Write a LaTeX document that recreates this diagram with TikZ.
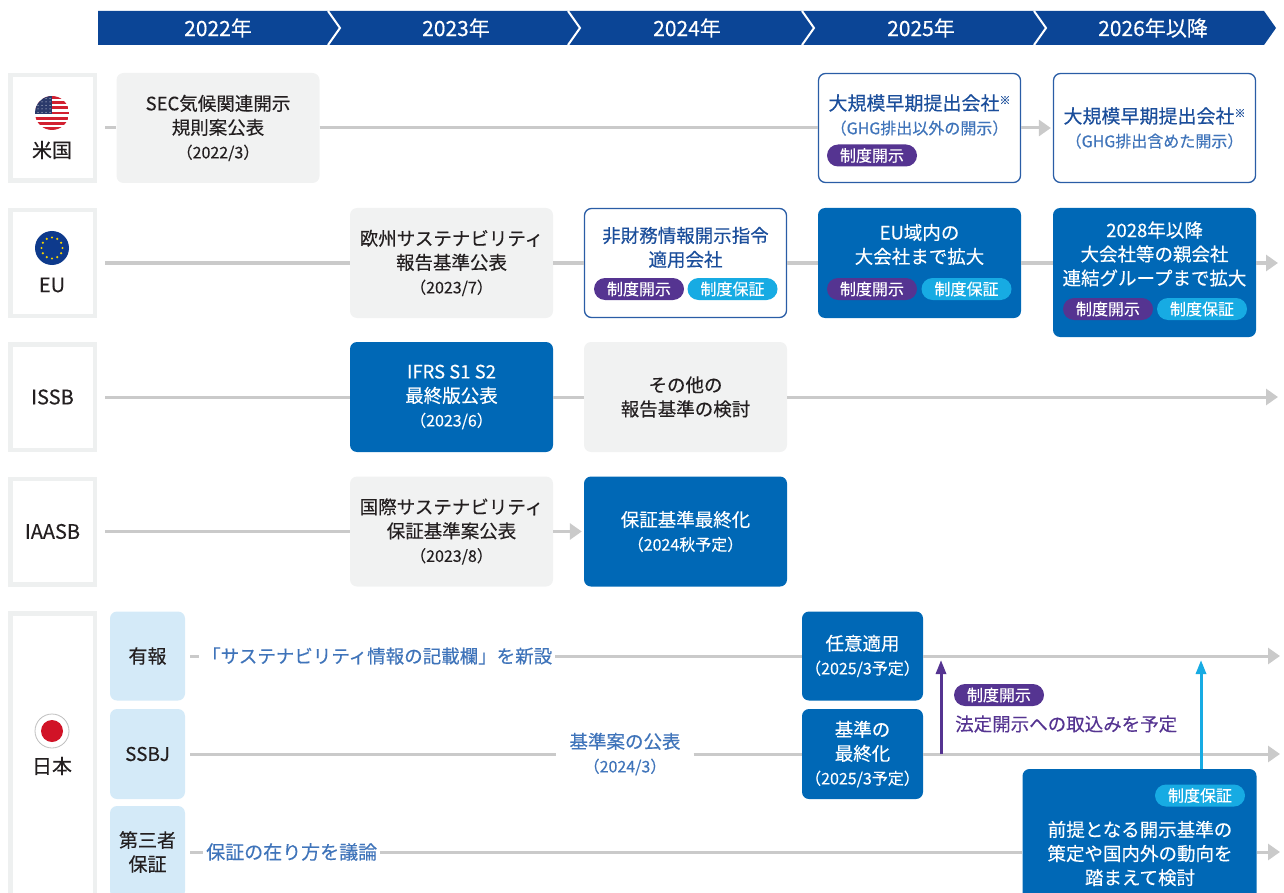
\documentclass[tikz,border=0pt]{standalone}
\usepackage{fontspec}
\setmainfont{Noto Sans CJK JP}[FakeBold=0.3]
\usetikzlibrary{arrows.meta}
\definecolor{hdrblue}{HTML}{0B4596}
\definecolor{boxblue}{HTML}{0068B6}
\definecolor{boxgray}{HTML}{F1F2F2}
\definecolor{linegray}{HTML}{CACACA}
\definecolor{rowgray}{HTML}{EEF0F0}
\definecolor{purp}{HTML}{553491}
\definecolor{cyanb}{HTML}{17ABE3}
\definecolor{paleblue}{HTML}{D4EAF8}
\definecolor{frameblue}{HTML}{2A5DA6}
\definecolor{navytxt}{HTML}{1B4E9B}
\definecolor{lighttxt}{HTML}{3F74BA}
\definecolor{darktxt}{HTML}{231F20}
\definecolor{usred}{HTML}{D22030}
\definecolor{usblue}{HTML}{2B3A6B}
\definecolor{eublue}{HTML}{0E3A8C}
\definecolor{euyellow}{HTML}{F5D200}
\definecolor{jpred}{HTML}{D11327}
\newcommand{\dtx}[1]{{\fontsize{16}{24}\selectfont #1}}
\newcommand{\komemark}{\raisebox{6pt}{\fontsize{11}{11}\selectfont ※}}

\begin{document}
\begin{tikzpicture}[x=1pt,y=-1pt]
\tikzstyle{every node}+=[inner sep=0pt,text=darktxt]
\tikzstyle{yr}=[text=white,font=\fontsize{21}{21}\selectfont]
\tikzstyle{rowbox}=[draw=rowgray,line width=4.5pt,fill=white,minimum width=84.5pt,minimum height=105.5pt,align=center,font=\fontsize{20}{24}\selectfont]
\tikzstyle{rowname}=[font=\fontsize{20}{24}\selectfont]
\tikzstyle{gbox}=[fill=boxgray,rounded corners=7pt,minimum width=203pt,minimum height=110pt,align=center,font=\fontsize{18.5}{24}\selectfont]
\tikzstyle{bbox}=[gbox,fill=boxblue,text=white]
\tikzstyle{wbox}=[gbox,fill=white,draw=frameblue,line width=1.3pt,minimum width=202pt,minimum height=109pt,text=navytxt]
\tikzstyle{btext}=[align=center,font=\fontsize{18.5}{24}\selectfont]
\tikzstyle{pillp}=[fill=purp,text=white,rounded corners=11pt,minimum width=90pt,minimum height=22pt,font=\fontsize{16}{16}\selectfont]
\tikzstyle{pillc}=[pillp,fill=cyanb]
\tikzstyle{subbox}=[fill=paleblue,rounded corners=7pt,minimum width=75pt,align=center,font=\fontsize{19}{24}\selectfont]
\tikzstyle{jtxt}=[fill=white,inner xsep=3pt,inner ysep=1pt,align=center,text=lighttxt,font=\fontsize{18.5}{24}\selectfont]
\tikzstyle{tl}=[draw=linegray,line width=3pt]
\tikzstyle{tla}=[tl,-{Triangle[length=12pt,width=16pt]}]
\tikzstyle{uparr}=[line width=3pt,-{Triangle[length=14pt,width=10pt]}]
\useasboundingbox (0,0) rectangle (1284,893);

\fill[hdrblue] (98,11) -- (1264,11) -- (1276,28) -- (1264,45) -- (98,45) -- cycle;
\foreach \x in {328,568,802,1034}
  \draw[white,line width=2pt] (\x,11) -- (\x+12,28) -- (\x,45);
\node[yr] (y22) at (218,28) {2022年};
\node[yr] (y23) at (456,28) {2023年};
\node[yr] (y24) at (687,28) {2024年};
\node[yr] (y25) at (921,28) {2025年};
\node[yr] (y26) at (1153,28) {2026年以降};

\node[rowbox] (usR) at (52.5,128) {};
\begin{scope}
  \clip (52,113) circle (17);
  \fill[white] (35,96) rectangle (69,130);
  \foreach \i in {0,2,...,12}
    \fill[usred] (35,{96+\i*34/13}) rectangle (69,{96+(\i+1)*34/13});
  \fill[usblue] (35,96) rectangle (52,{96+7*34/13});
  \foreach \a in {0,...,3}
    \foreach \b in {0,...,4}
      \fill[white] ({38+\a*4},{98.5+\b*3.5}) circle (0.5);
\end{scope}
\node[rowname] (usN) at (52,150) {米国};
\node[gbox] (sec) at (218,128) {SEC気候関連開示\\規則案公表\\\dtx{（2022/3）}};
\node[wbox] (lg1) at (919.5,128) {};
\node[btext,text=navytxt,font=\fontsize{19}{24}\selectfont] (lg1T) at (919.5,115) {大規模早期提出会社\komemark\\{\color{lighttxt}\fontsize{16}{24}\selectfont （GHG排出以外の開示）}};
\node[pillp] (lg1P) at (872,155.5) {制度開示};
\node[wbox,font=\fontsize{19}{24}\selectfont] (lg2) at (1154.5,128) {大規模早期提出会社\komemark\\{\color{lighttxt}\fontsize{16}{24}\selectfont （GHG排出含めた開示）}};
\draw[tl] ([xshift=8pt]usR.east) -- (sec.west);
\draw[tl] (sec.east) -- (lg1.west);
\draw[tla] (lg1.east) -- ([xshift=-2pt]lg2.west);

\node[rowbox] (euR) at (52.5,263) {};
\fill[eublue] (52,248) circle (17);
\foreach \a in {0,30,...,330}
  \fill[euyellow] ({52+10.5*cos(\a)},{248+10.5*sin(\a)}) circle (1.2);
\node[rowname] (euN) at (52,285) {EU};
\node[gbox] (esrs) at (451.5,263) {欧州サステナビリティ\\報告基準公表\\\dtx{（2023/7）}};
\node[wbox] (nfrd) at (685.5,263) {};
\node[btext,text=navytxt] (nfrdT) at (685.5,247.5) {非財務情報開示指令\\適用会社};
\node[pillp] (nfrdP) at (639,289) {制度開示};
\node[pillc] (nfrdC) at (732.5,289) {制度保証};
\node[bbox] (euL) at (919.5,263) {};
\node[btext,text=white] (euLT) at (919.5,244.5) {EU域内の\\大会社まで拡大};
\node[pillp] (euLP) at (872,289) {制度開示};
\node[pillc] (euLC) at (966.5,289) {制度保証};
\node[bbox,minimum height=129pt] (eu28) at (1154.5,272.5) {};
\node[btext,text=white] (eu28T) at (1154.5,254) {2028年以降\\大会社等の親会社\\連結グループまで拡大};
\node[pillp] (eu28P) at (1108,309) {制度開示};
\node[pillc] (eu28C) at (1202,309) {制度保証};
\coordinate (euEnd) at (1278,263);
\draw[tl] ([xshift=8pt]euR.east) -- (esrs.west);
\draw[tl] (esrs.east) -- (nfrd.west);
\draw[tl] (nfrd.east) -- (euL.west);
\draw[tl] (euL.east) -- (euL.east -| eu28.west);
\draw[tla] (euL.east -| eu28.east) -- (euEnd);

\node[rowbox] (issbR) at (52.5,397) {ISSB};
\node[bbox] (ifrs) at (451.5,397) {IFRS S1 S2\\最終版公表\\\dtx{（2023/6）}};
\node[gbox] (other) at (685.5,397) {その他の\\報告基準の検討};
\coordinate (issbEnd) at (1278,397);
\draw[tl] ([xshift=8pt]issbR.east) -- (ifrs.west);
\draw[tl] (ifrs.east) -- (other.west);
\draw[tla] (other.east) -- (issbEnd);

\node[rowbox] (iaR) at (52.5,531.5) {IAASB};
\node[gbox] (iaD) at (451.5,531.5) {国際サステナビリティ\\保証基準案公表\\\dtx{（2023/8）}};
\node[bbox] (iaF) at (685.5,531.5) {保証基準最終化\\\dtx{（2024秋予定）}};
\draw[tl] ([xshift=8pt]iaR.east) -- (iaD.west);
\draw[tla] (iaD.east) -- ([xshift=-2pt]iaF.west);

\node[rowbox,minimum height=290pt] (jpR) at (52.5,758.25) {};
\draw[gray!50,line width=0.8pt,fill=white] (52,731) circle (17);
\fill[jpred] (52,731) circle (11);
\node[rowname] (jpN) at (52,766) {日本};
\node[subbox,minimum height=89pt] (yuho) at (147.5,656) {有報};
\node[subbox,minimum height=90pt] (ssbj) at (147.5,754) {SSBJ};
\node[subbox,minimum height=92pt] (sanja) at (147.5,852) {第三者\\保証};
\node[bbox,minimum width=121pt,minimum height=89pt] (nini) at (862.5,656) {任意適用\\\dtx{（2025/3予定）}};
\node[bbox,minimum width=121pt,minimum height=90pt] (kijun) at (862.5,754) {基準の\\最終化\\\dtx{（2025/3予定）}};
\node[bbox,minimum width=234pt,minimum height=140pt] (zen) at (1139.5,839) {};
\node[pillc] (zenC) at (1200,795.5) {制度保証};
\node[btext,text=white] (zenT) at (1140,853.5) {前提となる開示基準の\\策定や国内外の動向を\\踏まえて検討};
\node[jtxt,anchor=west] (yuhoT) at (199,656) {「サステナビリティ情報の記載欄」を新設};
\node[jtxt,minimum width=137pt] (ssbjT) at (625,754) {基準案の公表\\\dtx{（2024/3）}};
\node[jtxt,anchor=west,font=\fontsize{19}{24}\selectfont] (sanjaT) at (203,852) {保証の在り方を議論};
\coordinate (e1) at (1280,656);
\coordinate (e2) at (1280,754);
\coordinate (e3) at (1280,852);
\draw[tl] ([xshift=5pt]yuho.east) -- (yuhoT.west);
\draw[tl] (yuhoT.east) -- (nini.west);
\draw[tla] (nini.east) -- (e1);
\draw[tl] ([xshift=5pt]ssbj.east) -- (ssbjT.west);
\draw[tl] (ssbjT.east) -- (kijun.west);
\draw[tla] (kijun.east) -- (e2);
\draw[tl] ([xshift=5pt]sanja.east) -- (sanjaT.west);
\draw[tl] (sanjaT.east) -- (sanjaT.east -| zen.west);
\draw[tla] (sanjaT.east -| zen.east) -- (e3);

\coordinate (pTop) at (941,660);
\draw[uparr,purp] (kijun.east -| pTop) -- (pTop);
\node[pillp] (houP) at (999,695) {制度開示};
\node[anchor=west,text=purp,font=\fontsize{18.5}{24}\selectfont] (houT) at (955,724) {法定開示への取込みを予定};
\coordinate (cTop) at (1201,660);
\draw[uparr,cyanb] (zen.north -| cTop) -- (cTop);
\end{tikzpicture}
\end{document}
